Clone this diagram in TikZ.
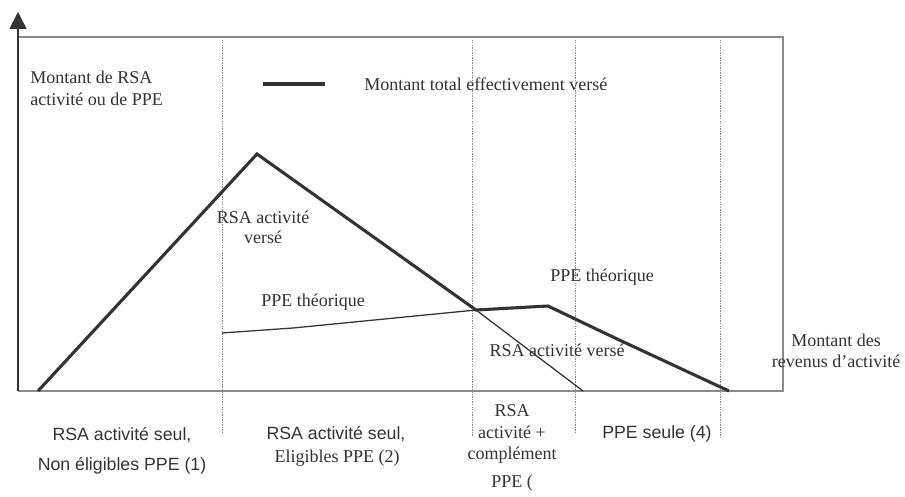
\documentclass[tikz,border=0pt]{standalone}
\usepackage{fontspec}
\setmainfont{Liberation Serif}
\setsansfont{Liberation Sans}
\usepackage{tikz}
\usetikzlibrary{arrows.meta}
\usetikzlibrary{positioning}
\definecolor{ink}{HTML}{333333}
\definecolor{frame}{HTML}{8A8A8A}

\begin{document}
\begin{tikzpicture}[x=0.025cm, y=-0.025cm,
				serif/.style={text=ink, inner sep=0pt, font=\fontsize{12.8}{15.3}\selectfont, align=center},
				sans/.style={text=ink, inner sep=0pt, font=\sffamily\fontsize{12.6}{15}\selectfont, align=center},
				total/.style={draw=ink, line width=2.2pt, line join=miter},
				thin/.style={draw=ink, line width=0.9pt},
				zone/.style={draw=frame, line width=0.7pt, dash pattern=on 1pt off 0.8pt}]
				\useasboundingbox (0,0) rectangle (905,497);
				
				% cadre et axes
				\draw[frame, line width=0.8pt] (18,37) -- (783,37) -- (783,391) -- (18,391);
				\draw[ink, line width=1.3pt, -{Triangle[width=12pt,length=12pt]}] (18,391) -- (18,12);
				
				% separations des zones
				\foreach \x/\y in {222/432, 472/436, 575/433, 720/438}
					\draw[zone] (\x,37) -- (\x,\y);
				
				% points des courbes
				\coordinate (p1) at (38,391);
				\coordinate (p2) at (257,154);
				\coordinate (p3) at (476,310);
				\coordinate (p4) at (548,306);
				\coordinate (p5) at (615,338);
				\coordinate (p6) at (729,391);
				\coordinate (q1) at (222,333);
				\coordinate (q2) at (293,328);
				\coordinate (q3) at (583,391);
				
				\draw[thin] (q1) -- (q2) -- (p3) -- (p4);
				\draw[thin] (p3) -- (q3);
				\draw[total] (p1) -- (p2) -- (p3) -- (p4) -- (p5) -- (p6);
				
				% legende
				\coordinate (l1) at (263,84);
				\coordinate (l2) at (325,84);
				\draw[total] (l1) -- (l2);
				\node[serif, anchor=west](node1) at (364,84) {Montant total effectivement versé};
				\node[serif, anchor=west, align=left, font=\fontsize{12.8}{15.6}\selectfont](node2) at (30,88) {Montant de RSA\\activité ou de PPE};
				
				\node[serif, font=\fontsize{12.8}{14}\selectfont](node3) at (263,227) {RSA activité\\versé};
				\node[serif](node4) at (313,302) {PPE théorique};
				\node[serif](node5) at (602,277) {PPE théorique};
				\node[serif](node6) at (557,350) {RSA activité versé};
				\node[serif](node7) at (836,351) {Montant des\\revenus d’activité};
				
				% zones sous l'axe
				\node[sans, anchor=base](node8) at (122,440) {RSA activité seul,};
				\node[sans, anchor=base](node9) at (122,470) {Non éligibles PPE (1)};
				\node[sans, anchor=base](node10) at (336,439) {RSA activité seul,};
				\node[serif, anchor=base](node11) at (337,462) {Eligibles PPE (2)};
				\node[serif](node12) at (512,434) {RSA\\activité +\\complément};
				\node[serif, anchor=base](node13) at (512,487) {PPE (};
				\node[sans, anchor=base](node14) at (657,438) {PPE seule (4)};
			\end{tikzpicture}
\end{document}
